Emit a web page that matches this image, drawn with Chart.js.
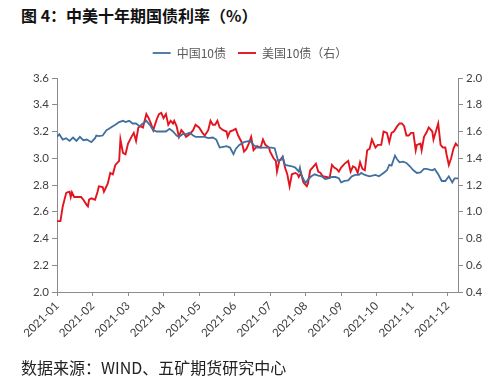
<!DOCTYPE html>
<html>
<head>
<meta charset="utf-8">
<script src="https://cdn.jsdelivr.net/npm/chart.js@4.4.0/dist/chart.umd.min.js"></script>
<style>
  body { margin: 0; background: #fff; }
  #wrap { position: relative; width: 500px; height: 387px; overflow: hidden; }
  #myChart { position: absolute; left: 0; top: 0; }
  .title { position: absolute; left: 21px; top: 3px; font: bold 16px "Noto Sans CJK SC"; color: #111; }
  .source { position: absolute; left: 21px; top: 355px; font: 16px "Noto Sans CJK SC"; color: #222; }
</style>
</head>
<body>
<div id="wrap">
  <div class="title">图 4：中美十年期国债利率（%）</div>
  <canvas id="myChart" width="500" height="387"></canvas>
  <div class="source">数据来源：WIND、五矿期货研究中心</div>
</div>
<script>
// months on the x axis
const monthLabels = ['2021-01', '2021-02', '2021-03', '2021-04', '2021-05', '2021-06',
  '2021-07', '2021-08', '2021-09', '2021-10', '2021-11', '2021-12'];

// China 10y (left axis)
const chinaDates = ['2021-01-01', '2021-01-03', '2021-01-06', '2021-01-09', '2021-01-12', '2021-01-15', '2021-01-18', '2021-01-21', '2021-01-24', '2021-01-27', '2021-01-31',
  '2021-02-03', '2021-02-04', '2021-02-06', '2021-02-09', '2021-02-12', '2021-02-14', '2021-02-17', '2021-02-19', '2021-02-22', '2021-02-25', '2021-02-27',
  '2021-03-02', '2021-03-05', '2021-03-08', '2021-03-11', '2021-03-14', '2021-03-17', '2021-03-20', '2021-03-23', '2021-03-26', '2021-03-28', '2021-03-31',
  '2021-04-03', '2021-04-06', '2021-04-09', '2021-04-12', '2021-04-14', '2021-04-17', '2021-04-20', '2021-04-23', '2021-04-26', '2021-04-28',
  '2021-05-01', '2021-05-06', '2021-05-09', '2021-05-13', '2021-05-16', '2021-05-19', '2021-05-22', '2021-05-25', '2021-05-28', '2021-05-31',
  '2021-06-02', '2021-06-05', '2021-06-09', '2021-06-14', '2021-06-17', '2021-06-20', '2021-06-24', '2021-06-28',
  '2021-07-02', '2021-07-05', '2021-07-08', '2021-07-11', '2021-07-12', '2021-07-14', '2021-07-17', '2021-07-20', '2021-07-23', '2021-07-26', '2021-07-27', '2021-07-28', '2021-07-30',
  '2021-08-01', '2021-08-03', '2021-08-06', '2021-08-09', '2021-08-12', '2021-08-15', '2021-08-18', '2021-08-21', '2021-08-24', '2021-08-27', '2021-08-30',
  '2021-09-01', '2021-09-04', '2021-09-07', '2021-09-10', '2021-09-13', '2021-09-16', '2021-09-18', '2021-09-21', '2021-09-25', '2021-09-30',
  '2021-10-03', '2021-10-07', '2021-10-10', '2021-10-12', '2021-10-14', '2021-10-17', '2021-10-19', '2021-10-21', '2021-10-24', '2021-10-27', '2021-10-30',
  '2021-11-02', '2021-11-05', '2021-11-08', '2021-11-11', '2021-11-13', '2021-11-18', '2021-11-20', '2021-11-23', '2021-11-26', '2021-11-29',
  '2021-12-02', '2021-12-05', '2021-12-07', '2021-12-10'];
const chinaYield = [3.16, 3.18, 3.14, 3.15, 3.13, 3.155, 3.13, 3.16, 3.135, 3.14, 3.12,
  3.15, 3.17, 3.165, 3.17, 3.21, 3.22, 3.24, 3.25, 3.27, 3.28, 3.27,
  3.28, 3.26, 3.26, 3.24, 3.26, 3.28, 3.25, 3.21, 3.20, 3.20, 3.20,
  3.20, 3.22, 3.20, 3.17, 3.16, 3.18, 3.18, 3.19, 3.17, 3.16,
  3.16, 3.16, 3.15, 3.155, 3.14, 3.08, 3.085, 3.09, 3.08, 3.03,
  3.07, 3.10, 3.12, 3.13, 3.10, 3.08, 3.08, 3.08,
  3.08, 3.075, 2.98, 2.99, 3.01, 2.95, 2.945, 2.94, 2.93, 2.90, 2.93, 2.88, 2.845,
  2.815, 2.84, 2.865, 2.88, 2.87, 2.865, 2.845, 2.85, 2.86, 2.86, 2.85,
  2.82, 2.83, 2.835, 2.865, 2.875, 2.875, 2.89, 2.875, 2.865, 2.875,
  2.865, 2.89, 2.91, 2.95, 2.945, 3.02, 2.99, 2.97, 2.975, 2.965, 2.94,
  2.91, 2.89, 2.895, 2.92, 2.92, 2.91, 2.92, 2.88, 2.83, 2.83,
  2.865, 2.82, 2.85, 2.85];

// US 10y (right axis)
const usDates = ['2021-01-01', '2021-01-04', '2021-01-06', '2021-01-09', '2021-01-10', '2021-01-12', '2021-01-13', '2021-01-14', '2021-01-16', '2021-01-19', '2021-01-22', '2021-01-24', '2021-01-27', '2021-01-28', '2021-01-29', '2021-01-31',
  '2021-02-03', '2021-02-05', '2021-02-06', '2021-02-09', '2021-02-10', '2021-02-13', '2021-02-15', '2021-02-17', '2021-02-19', '2021-02-22', '2021-02-23', '2021-02-25', '2021-02-27',
  '2021-03-01', '2021-03-04', '2021-03-06', '2021-03-08', '2021-03-10', '2021-03-12', '2021-03-14', '2021-03-17', '2021-03-19', '2021-03-21', '2021-03-23', '2021-03-26', '2021-03-28', '2021-03-30',
  '2021-04-01', '2021-04-03', '2021-04-05', '2021-04-07', '2021-04-09', '2021-04-10', '2021-04-12', '2021-04-14', '2021-04-16', '2021-04-18', '2021-04-20', '2021-04-23', '2021-04-26', '2021-04-28',
  '2021-05-01', '2021-05-04', '2021-05-06', '2021-05-09', '2021-05-11', '2021-05-13', '2021-05-15', '2021-05-17', '2021-05-19', '2021-05-22', '2021-05-25', '2021-05-26', '2021-05-28', '2021-05-31',
  '2021-06-02', '2021-06-04', '2021-06-07', '2021-06-09', '2021-06-11', '2021-06-13', '2021-06-15', '2021-06-17', '2021-06-20', '2021-06-23', '2021-06-25', '2021-06-27', '2021-06-30',
  '2021-07-01', '2021-07-04', '2021-07-06', '2021-07-07', '2021-07-09', '2021-07-12', '2021-07-14', '2021-07-16', '2021-07-18', '2021-07-20', '2021-07-23', '2021-07-25', '2021-07-26', '2021-07-28', '2021-07-30',
  '2021-08-02', '2021-08-03', '2021-08-05', '2021-08-08', '2021-08-10', '2021-08-12', '2021-08-14', '2021-08-16', '2021-08-19', '2021-08-22', '2021-08-24', '2021-08-26', '2021-08-28', '2021-08-30',
  '2021-09-01', '2021-09-04', '2021-09-07', '2021-09-09', '2021-09-11', '2021-09-13', '2021-09-15', '2021-09-17', '2021-09-19', '2021-09-21', '2021-09-23', '2021-09-25', '2021-09-27', '2021-09-30',
  '2021-10-02', '2021-10-05', '2021-10-07', '2021-10-10', '2021-10-12', '2021-10-14', '2021-10-16', '2021-10-19', '2021-10-21', '2021-10-23', '2021-10-25', '2021-10-27', '2021-10-29', '2021-10-31',
  '2021-11-02', '2021-11-04', '2021-11-05', '2021-11-08', '2021-11-09', '2021-11-11', '2021-11-13', '2021-11-15', '2021-11-18', '2021-11-19', '2021-11-21', '2021-11-23', '2021-11-25', '2021-11-27', '2021-11-29', '2021-11-30',
  '2021-12-02', '2021-12-04', '2021-12-06', '2021-12-08', '2021-12-10'];
const usYield = [0.93, 0.93, 1.04, 1.14, 1.145, 1.15, 1.11, 1.145, 1.11, 1.11, 1.11, 1.09, 1.05, 1.04, 1.09, 1.10,
  1.09, 1.15, 1.19, 1.185, 1.15, 1.21, 1.29, 1.28, 1.35, 1.38, 1.54, 1.44, 1.43,
  1.51, 1.56, 1.59, 1.53, 1.63, 1.64, 1.63, 1.73, 1.70, 1.66, 1.61, 1.69, 1.73, 1.74,
  1.70, 1.73, 1.65, 1.68, 1.66, 1.68, 1.64, 1.56, 1.61, 1.59, 1.56, 1.58, 1.61, 1.65,
  1.63, 1.59, 1.57, 1.61, 1.68, 1.65, 1.65, 1.68, 1.63, 1.61, 1.60, 1.56, 1.60, 1.61,
  1.62, 1.57, 1.52, 1.45, 1.47, 1.51, 1.56, 1.46, 1.49, 1.48, 1.54, 1.50, 1.48,
  1.45, 1.40, 1.38, 1.30, 1.38, 1.41, 1.33, 1.28, 1.19, 1.28, 1.29, 1.28, 1.26, 1.29, 1.22,
  1.19, 1.21, 1.31, 1.34, 1.36, 1.30, 1.29, 1.265, 1.26, 1.255, 1.35, 1.33, 1.32, 1.30,
  1.33, 1.36, 1.38, 1.30, 1.34, 1.33, 1.29, 1.37, 1.32, 1.31, 1.46, 1.47, 1.54, 1.48,
  1.50, 1.50, 1.60, 1.59, 1.52, 1.59, 1.60, 1.64, 1.66, 1.66, 1.64, 1.57, 1.57, 1.59,
  1.59, 1.46, 1.50, 1.51, 1.46, 1.56, 1.59, 1.63, 1.60, 1.54, 1.60, 1.66, 1.50, 1.48, 1.48, 1.43,
  1.35, 1.40, 1.47, 1.51, 1.49];

// date -> position in months from 2021-01-01
function toMonthPos(d) {
  const [y, m, day] = d.split('-').map(Number);
  return (m - 1) + (day - 1) / new Date(y, m, 0).getDate();
}

const chinaPoints = chinaDates.map((d, i) => ({ x: toMonthPos(d), y: chinaYield[i] }));
const usPoints = usDates.map((d, i) => ({ x: toMonthPos(d), y: usYield[i] }));

const axisGray = '#8c8c8c';
const tickFont = { family: 'Lato', size: 11.5 };

// make the legend block a fixed height so the plot starts where it should
const legendHeight = {
  id: 'legendHeight',
  beforeInit(chart) {
    const fit = chart.legend.fit;
    chart.legend.fit = function () {
      fit.bind(chart.legend)();
      this.height = 43;
    };
  }
};

new Chart('myChart', {
  type: 'line',
  data: {
    datasets: [{
      label: '中国10债',
      data: chinaPoints,
      borderColor: '#41709F',
      backgroundColor: '#41709F',
      borderWidth: 1.8,
      pointRadius: 0,
      yAxisID: 'y'
    }, {
      label: '美国10债（右）',
      data: usPoints,
      borderColor: '#E3141E',
      backgroundColor: '#E3141E',
      borderWidth: 1.9,
      pointRadius: 0,
      yAxisID: 'y1'
    }]
  },
  options: {
    responsive: false,
    animation: false,
    layout: { padding: { top: 35, bottom: 45, left: 0, right: 0 } },
    plugins: {
      legend: {
        position: 'top',
        labels: {
          usePointStyle: true,
          pointStyle: 'line',
          pointStyleWidth: 18,
          padding: 12,
          color: '#595959',
          font: { family: 'Noto Sans CJK SC', size: 12 }
        }
      },
      tooltip: { enabled: false }
    },
    scales: {
      x: {
        type: 'linear',
        min: 0,
        max: toMonthPos('2021-12-10'),
        afterBuildTicks: (scale) => { scale.ticks = monthLabels.map((_, i) => ({ value: i })); },
        afterFit: (scale) => { scale.height = 50; },
        grid: { drawOnChartArea: false, tickLength: 4, color: axisGray },
        border: { color: axisGray },
        ticks: {
          autoSkip: false,
          maxRotation: 45,
          minRotation: 45,
          color: '#404040',
          font: tickFont,
          callback: (v) => monthLabels[Math.round(v)]
        }
      },
      y: {
        position: 'left',
        min: 2.0,
        max: 3.6,
        afterFit: (scale) => { scale.width = 57; },
        grid: { drawOnChartArea: false, tickLength: 5, color: axisGray },
        border: { color: axisGray },
        ticks: { stepSize: 0.2, color: '#404040', font: tickFont, callback: (v) => v.toFixed(1) }
      },
      y1: {
        position: 'right',
        min: 0.4,
        max: 2.0,
        afterFit: (scale) => { scale.width = 42; },
        grid: { drawOnChartArea: false, tickLength: 5, color: axisGray },
        border: { color: axisGray },
        ticks: { stepSize: 0.2, color: '#404040', font: tickFont, callback: (v) => v.toFixed(1) }
      }
    }
  },
  plugins: [legendHeight]
});
</script>
</body>
</html>
